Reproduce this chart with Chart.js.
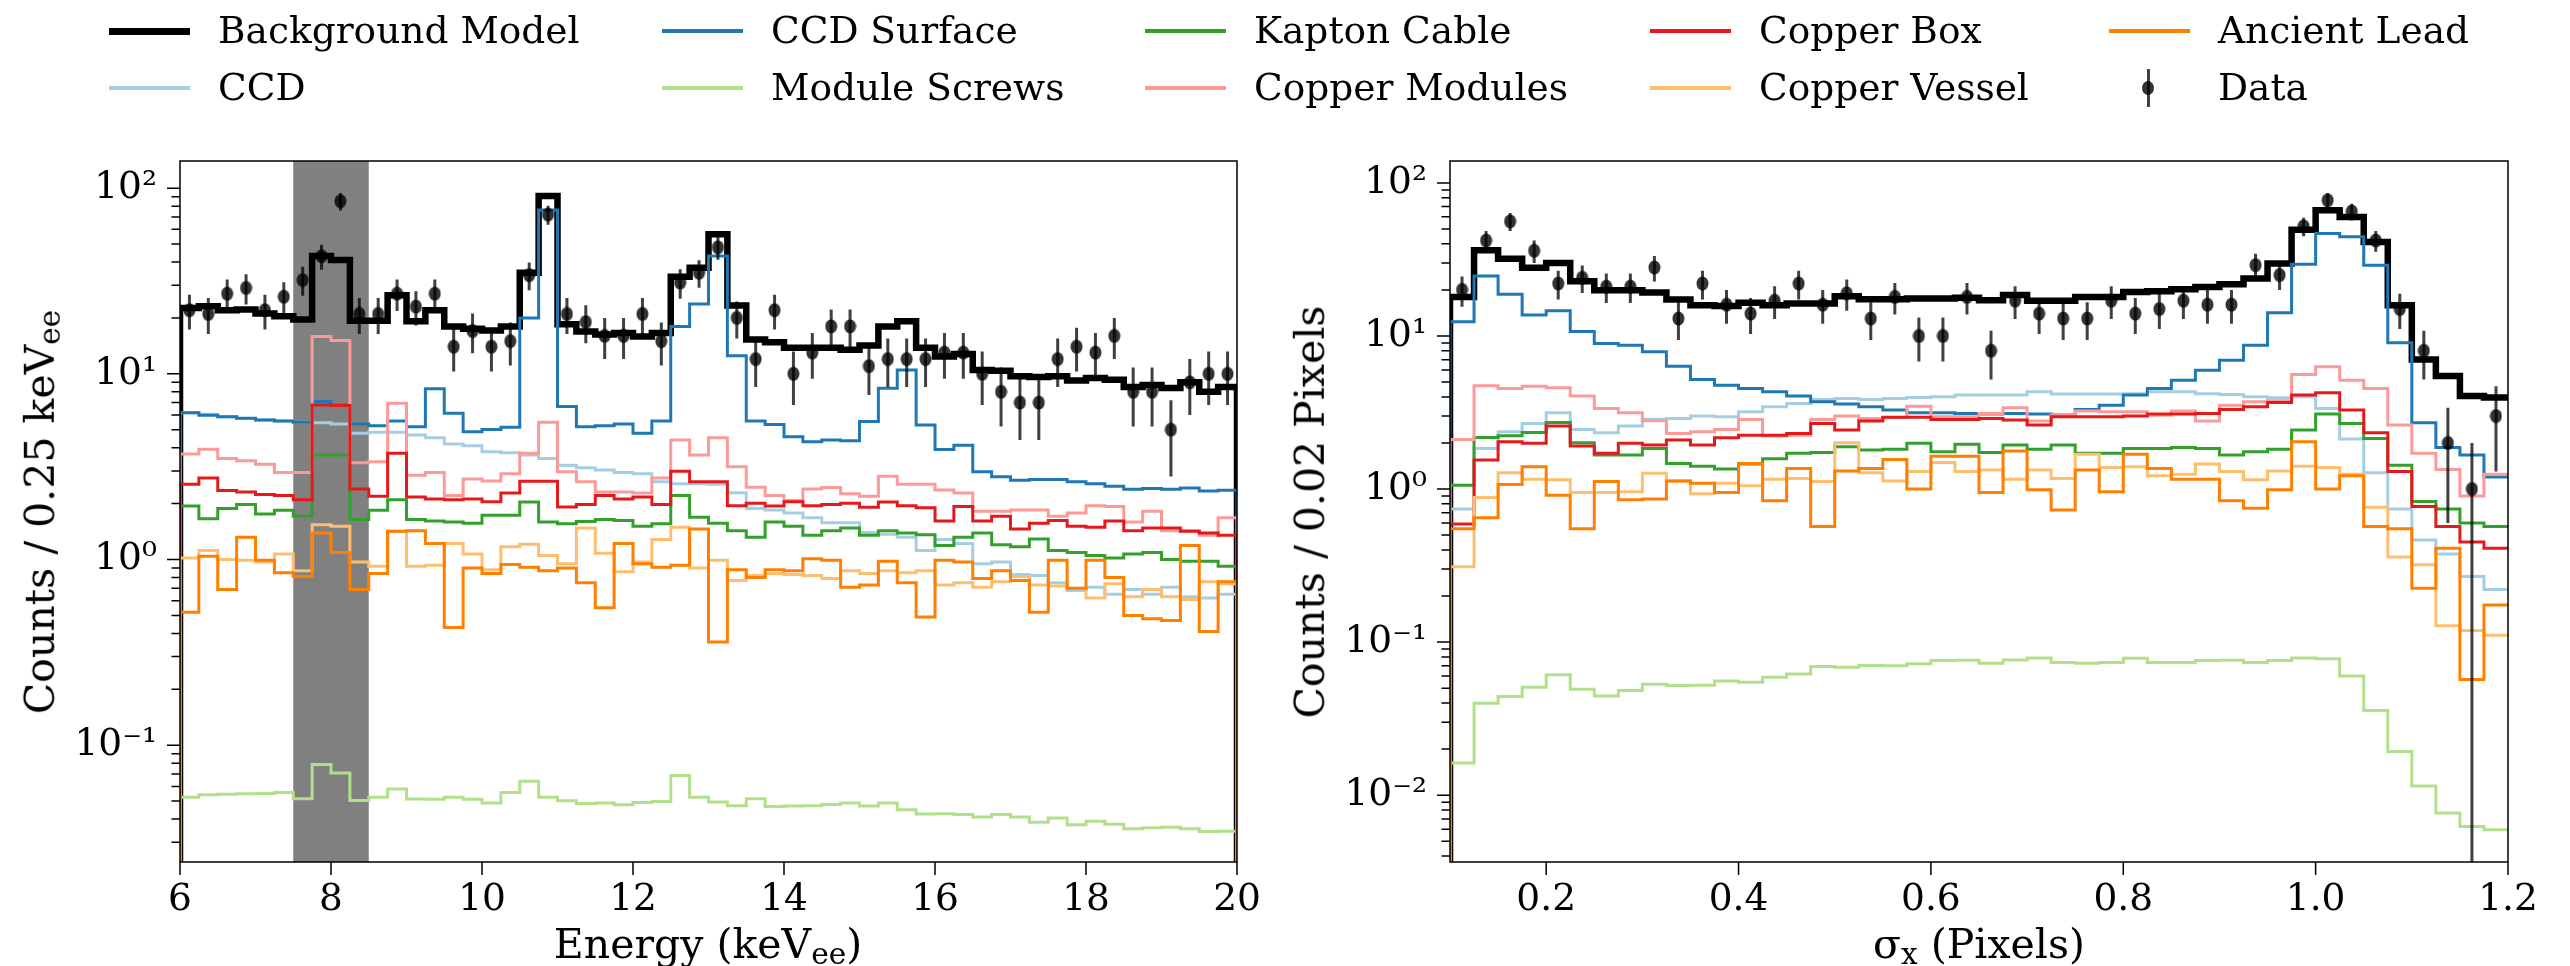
<!DOCTYPE html>
<html>
<head>
<meta charset="utf-8">
<title>Background model vs data</title>
<script src="https://cdn.jsdelivr.net/npm/chart.js@4.4.1/dist/chart.umd.min.js"></script>
<style>
  html, body { margin: 0; padding: 0; background: #ffffff; }
  #fig { position: relative; width: 2570px; height: 966px; overflow: hidden; font-family: 'DejaVu Serif', serif; color: #000; }
  #fig canvas { position: absolute; top: 0; }
  .txt { position: absolute; white-space: nowrap; line-height: 0; font-family: 'DejaVu Serif', serif; }
  .ax { font-size: 41px; }
  .lg { font-size: 37.5px; }
  .txt sub { font-size: 72%; line-height: 0; vertical-align: -0.22em; }
  .blk { position: absolute; }
</style>
</head>
<body>
<div id="fig">
  <canvas id="leftChart" width="1285" height="966" style="left:0px"></canvas>
  <canvas id="rightChart" width="1285" height="966" style="left:1285px"></canvas>
  <div class="txt ax" style="left:708px;top:958px;transform:translate(-50%,-0.346em)">Energy (keV<sub>ee</sub>)</div>
  <div class="txt ax" style="left:1979px;top:958px;transform:translate(-50%,-0.346em)">σ<sub>x</sub> (Pixels)</div>
  <div class="txt ax" style="left:53.5px;top:511.5px;transform-origin:0 0;transform:rotate(-90deg) translate(-50%,-0.346em)">Counts / 0.25 keV<sub>ee</sub></div>
  <div class="txt ax" style="left:1323.5px;top:511.5px;transform-origin:0 0;transform:rotate(-90deg) translate(-50%,-0.346em)">Counts / 0.02 Pixels</div>
</div>
<script>
// ---------------- axes / bins ----------------
const energyStart = 6, energyEnd = 20, energyBinWidth = 0.25;
const energyTicks = [6, 8, 10, 12, 14, 16, 18, 20];
const leftCountTicks = [0.1, 1, 10, 100];
const leftCountRange = [0.0235, 140];
const copperBand = [7.5, 8.5];

const sigmaStart = 0.1, sigmaEnd = 1.2, sigmaBinWidth = 0.025;
const sigmaTicks = [0.2, 0.4, 0.6, 0.8, 1.0, 1.2];
const rightCountTicks = [0.01, 0.1, 1, 10, 100];
const rightCountRange = [0.00366, 139];

// ---------------- series ----------------
const seriesNames = ['Background Model', 'CCD', 'CCD Surface', 'Module Screws', 'Kapton Cable',
                     'Copper Modules', 'Copper Box', 'Copper Vessel', 'Ancient Lead'];
const seriesColors = ['#000000', '#a6cee3', '#1f78b4', '#b2df8a', '#33a02c',
                      '#fb9a99', '#e31a1c', '#fdbf6f', '#ff7f00'];
const seriesWidths = [6.5, 3, 3, 3, 3, 3, 3, 3, 3];

// Energy spectrum (56 bins of 0.25 keV from 6 to 20 keV)
const bgModelE = [22.6, 23.1, 22.0, 22.2, 21.1, 20.4, 19.6, 43.1, 41.0, 19.3,
  19.3, 26.5, 19.2, 22.0, 18.0, 17.5, 17.1, 18.0, 35.0, 90.8,
  18.5, 16.9, 16.3, 16.6, 15.9, 16.6, 33.3, 37.3, 56.4, 23.3,
  15.3, 14.8, 13.8, 13.8, 13.8, 13.5, 14.2, 18.0, 19.2, 13.8,
  12.4, 12.8, 10.5, 10.4, 9.7, 9.6, 9.7, 9.2, 9.5, 9.3,
  8.5, 8.7, 8.4, 9.0, 8.0, 8.5];
const ccdE = [6.18, 6.05, 5.88, 5.74, 5.64, 5.57, 5.48, 5.46, 5.37, 4.78,
  4.84, 4.84, 4.68, 4.53, 4.19, 4.10, 3.80, 3.76, 3.65, 3.50,
  3.22, 3.12, 3.03, 2.94, 2.90, 2.62, 2.56, 2.56, 2.54, 2.29,
  1.88, 1.85, 1.78, 1.68, 1.58, 1.58, 1.40, 1.37, 1.32, 1.12,
  1.28, 1.22, 0.95, 0.97, 0.83, 0.82, 0.75, 0.68, 0.71, 0.65,
  0.69, 0.65, 0.71, 0.63, 0.62, 0.65];
const ccdSurfaceE = [6.18, 5.98, 5.88, 5.76, 5.64, 5.57, 5.48, 7.09, 6.79, 5.37,
  5.26, 5.57, 5.19, 8.3, 6.13, 4.88, 5.02, 5.15, 20.0, 76.3,
  6.66, 5.19, 5.26, 5.37, 4.78, 5.57, 18.0, 23.8, 43.1, 12.5,
  5.57, 5.34, 4.58, 4.31, 4.40, 4.36, 5.53, 8.36, 10.5, 5.30,
  3.91, 4.13, 2.97, 2.79, 2.67, 2.70, 2.70, 2.62, 2.56, 2.48,
  2.39, 2.41, 2.39, 2.43, 2.34, 2.36];
const moduleScrewsE = [0.0524, 0.0541, 0.0545, 0.0547, 0.055, 0.0557, 0.0515, 0.0787, 0.0709, 0.0504,
  0.0525, 0.0581, 0.0514, 0.0511, 0.0525, 0.0511, 0.0488, 0.0557, 0.0639, 0.0525,
  0.0503, 0.0486, 0.0488, 0.0478, 0.0492, 0.0497, 0.0686, 0.0525, 0.0494, 0.0472,
  0.0515, 0.0467, 0.047, 0.0472, 0.048, 0.0488, 0.047, 0.0488, 0.0449, 0.0426,
  0.0427, 0.0423, 0.041, 0.0423, 0.041, 0.0385, 0.0405, 0.0373, 0.039, 0.0375,
  0.0355, 0.0359, 0.0362, 0.0355, 0.0343, 0.0344];
const kaptonE = [1.94, 1.66, 1.88, 1.98, 1.76, 1.84, 1.71, 3.65, 3.65, 1.64,
  1.84, 2.10, 1.64, 1.61, 1.59, 1.57, 1.73, 1.73, 2.04, 1.59,
  1.56, 1.60, 1.64, 1.62, 1.51, 1.56, 2.21, 1.69, 1.57, 1.43,
  1.32, 1.59, 1.51, 1.35, 1.43, 1.48, 1.35, 1.43, 1.39, 1.36,
  1.19, 1.32, 1.39, 1.20, 1.17, 1.29, 1.12, 1.09, 1.05, 1.02,
  1.07, 1.09, 1.00, 0.98, 0.98, 0.92];
const copperModulesE = [3.70, 3.92, 3.50, 3.40, 3.26, 2.94, 2.94, 15.9, 15.1, 3.32,
  3.36, 6.94, 2.84, 2.94, 2.21, 2.71, 2.65, 2.90, 3.73, 5.48,
  2.97, 2.62, 2.31, 2.31, 2.28, 2.75, 4.40, 3.65, 4.53, 3.16,
  2.45, 2.21, 2.08, 2.40, 2.44, 2.26, 2.19, 2.81, 2.54, 2.54,
  2.37, 2.28, 1.82, 1.82, 1.85, 1.85, 1.71, 1.78, 1.95, 1.93,
  1.59, 1.82, 1.43, 1.43, 1.35, 1.68];
const copperBoxE = [2.54, 2.75, 2.35, 2.31, 2.24, 2.21, 2.10, 6.80, 6.75, 2.40,
  2.19, 3.73, 2.17, 2.12, 2.10, 2.12, 2.05, 2.28, 2.64, 2.64,
  1.92, 1.98, 2.21, 2.12, 2.17, 1.98, 2.99, 2.62, 2.62, 1.95,
  2.01, 1.94, 2.05, 1.95, 1.98, 2.01, 1.91, 2.04, 1.95, 1.90,
  1.61, 1.93, 1.61, 1.71, 1.46, 1.57, 1.62, 1.51, 1.49, 1.61,
  1.43, 1.48, 1.48, 1.42, 1.39, 1.35];
const copperVesselE = [1.02, 1.12, 1.00, 0.99, 0.97, 1.07, 0.87, 1.54, 1.51, 0.97,
  0.92, 1.42, 0.92, 0.93, 1.22, 1.07, 0.88, 1.17, 1.21, 1.05,
  0.95, 1.48, 1.08, 0.86, 0.97, 1.28, 1.49, 0.90, 0.99, 0.77,
  0.82, 0.84, 0.83, 0.82, 0.79, 0.87, 0.84, 0.87, 0.85, 0.87,
  0.73, 0.75, 0.71, 0.76, 0.81, 0.73, 0.72, 0.70, 0.62, 0.74,
  0.63, 0.69, 0.63, 0.61, 0.76, 0.74];
const ancientLeadE = [0.52, 1.04, 0.69, 1.32, 0.99, 0.85, 0.81, 1.39, 1.09, 0.69,
  0.84, 1.42, 1.43, 1.22, 0.43, 0.90, 0.84, 0.94, 0.91, 0.87,
  0.90, 0.75, 0.55, 1.22, 0.95, 0.91, 0.93, 1.46, 0.36, 0.88,
  0.80, 0.88, 0.87, 1.01, 0.99, 0.71, 0.73, 0.98, 0.75, 0.49,
  0.99, 0.97, 0.79, 0.87, 0.77, 0.52, 0.99, 0.70, 0.99, 0.80,
  0.50, 0.48, 0.47, 1.19, 0.41, 0.76];
const dataE = [22, 21, 27, 29, 22, 26, 32, 43, 85, 21,
  21, 27, 23, 27, 14, 17, 14, 15, 34, 72,
  21, 19, 16, 16, 21, 15, 31, 35, 48, 20,
  12, 22, 10, 13, 18, 18, 11, 12, 12, 12,
  13, 13, 10, 8, 7, 7, 12, 14, 13, 16,
  8, 8, 5, 9, 10, 10];
const dataErrE = [4.7, 4.6, 5.2, 5.4, 4.7, 5.1, 5.7, 6.6, 9.2, 4.6,
  4.6, 5.2, 4.8, 5.2, 3.7, 4.1, 3.7, 3.9, 5.8, 8.5,
  4.6, 4.4, 4.0, 4.0, 4.6, 3.9, 5.6, 5.9, 6.9, 4.5,
  3.5, 4.7, 3.2, 3.6, 4.2, 4.2, 3.3, 3.5, 3.5, 3.5,
  3.6, 3.6, 3.2, 2.8, 2.6, 2.6, 3.5, 3.7, 3.6, 4.0,
  2.8, 2.8, 2.2, 3.0, 3.2, 3.2];

// Cluster width spectrum (44 bins of 0.025 px from 0.1 to 1.2)
const bgModelS = [18.0, 36.3, 32.0, 27.9, 30.0, 22.8, 19.9, 19.9, 19.2, 17.3,
  15.9, 15.7, 16.5, 15.9, 16.3, 16.3, 18.2, 17.4, 17.4, 17.6,
  17.6, 17.8, 17.1, 18.5, 17.0, 17.0, 18.0, 18.0, 19.4, 19.6,
  20.2, 20.9, 21.8, 23.7, 29.7, 49.5, 66.2, 59.9, 41.1, 15.9,
  7.02, 5.47, 4.05, 3.97];
const ccdS = [0.74, 1.84, 2.37, 2.68, 3.15, 2.45, 2.33, 2.58, 2.86, 2.89,
  3.00, 2.97, 3.20, 3.45, 3.62, 3.85, 3.91, 3.85, 3.91, 3.97,
  4.01, 4.11, 4.11, 4.11, 4.32, 4.17, 4.17, 4.17, 4.20, 4.32,
  4.32, 4.20, 4.15, 4.01, 3.95, 4.01, 3.36, 2.12, 1.28, 0.74,
  0.465, 0.377, 0.268, 0.221];
const ccdSurfaceS = [12.4, 24.6, 18.7, 13.7, 14.6, 10.7, 8.93, 8.71, 7.88, 6.35,
  5.20, 4.77, 4.54, 4.32, 4.05, 3.72, 3.59, 3.45, 3.28, 3.15,
  3.15, 3.12, 3.09, 3.12, 3.09, 3.04, 3.31, 3.53, 4.11, 4.54,
  5.14, 5.98, 6.95, 8.71, 14.2, 29.4, 46.7, 44.4, 29.0, 9.02,
  2.71, 1.87, 1.67, 1.20];
const moduleScrewsS = [0.0162, 0.0399, 0.0441, 0.0507, 0.0611, 0.0492, 0.0445, 0.0483, 0.0531, 0.052,
  0.0522, 0.0558, 0.0547, 0.059, 0.062, 0.0692, 0.0684, 0.0703, 0.070, 0.0722,
  0.0757, 0.076, 0.0728, 0.0765, 0.0788, 0.0735, 0.0728, 0.0735, 0.0785, 0.0737,
  0.0735, 0.0757, 0.076, 0.0735, 0.0757, 0.0788, 0.078, 0.0601, 0.0357, 0.0193,
  0.0115, 0.00764, 0.00625, 0.00594];
const kaptonS = [1.06, 2.17, 2.23, 2.34, 2.72, 2.01, 1.67, 1.67, 1.84, 1.47,
  1.41, 1.35, 1.46, 1.58, 1.71, 1.73, 1.89, 1.80, 1.82, 1.99,
  1.75, 1.96, 1.73, 1.94, 1.82, 1.94, 1.71, 1.71, 1.84, 1.84,
  1.87, 1.84, 1.67, 1.75, 1.82, 2.43, 3.09, 2.68, 2.14, 1.43,
  0.83, 0.74, 0.60, 0.57];
const copperModulesS = [2.11, 4.73, 4.54, 4.70, 4.59, 4.05, 3.36, 3.15, 2.79, 2.31,
  2.37, 2.45, 2.85, 2.22, 2.25, 2.85, 3.00, 2.89, 2.93, 3.48,
  2.97, 2.97, 3.12, 3.40, 2.78, 3.04, 3.24, 3.20, 3.20, 3.03,
  3.24, 2.78, 3.53, 3.72, 3.77, 5.60, 6.29, 5.14, 4.54, 2.62,
  1.71, 1.34, 0.90, 1.25];
const copperBoxS = [0.59, 1.55, 2.04, 1.99, 2.58, 1.91, 1.71, 1.99, 1.94, 2.09,
  1.94, 2.16, 2.25, 2.25, 2.31, 2.68, 2.43, 2.78, 2.94, 2.94,
  2.85, 2.85, 2.89, 2.82, 2.62, 2.97, 2.97, 2.97, 3.00, 3.09,
  3.09, 3.12, 3.31, 3.45, 3.68, 4.11, 4.25, 3.28, 2.33, 1.30,
  0.77, 0.57, 0.45, 0.41];
const copperVesselS = [0.311, 0.88, 1.28, 1.16, 1.15, 0.95, 0.95, 0.96, 1.27, 1.13,
  0.93, 1.09, 1.05, 1.16, 1.17, 1.12, 2.01, 1.28, 1.13, 1.30,
  1.49, 1.30, 1.33, 1.16, 1.33, 1.17, 1.69, 1.38, 1.40, 1.22,
  1.25, 1.46, 1.30, 1.15, 1.31, 1.41, 1.38, 1.25, 0.76, 0.36,
  0.32, 0.128, 0.119, 0.111];
const ancientLeadS = [0.55, 0.65, 1.07, 1.40, 0.91, 0.55, 1.12, 0.85, 0.86, 1.13,
  1.09, 0.95, 1.47, 0.84, 1.36, 0.57, 1.31, 1.36, 1.56, 1.00,
  1.64, 1.64, 0.95, 1.77, 0.99, 0.73, 1.33, 0.96, 1.69, 1.36,
  1.16, 1.16, 0.84, 0.75, 0.99, 2.04, 1.00, 1.22, 0.57, 0.55,
  0.225, 0.41, 0.057, 0.175];
const dataS = [20, 42, 56, 36, 22, 24, 21, 21, 28, 13,
  22, 16, 14, 17, 22, 16, 19, 13, 18, 10,
  10, 18, 8, 17, 14, 13, 13, 17, 14, 15,
  17, 16, 16, 29, 25, 52, 77, 65, 42, 15,
  8, 2, 1, 3];
const dataErrS = [4.5, 6.5, 7.5, 6.0, 4.7, 4.9, 4.6, 4.6, 5.3, 3.6,
  4.7, 4.0, 3.7, 4.1, 4.7, 4.0, 4.4, 3.6, 4.2, 3.2,
  3.2, 4.2, 2.8, 4.1, 3.7, 3.6, 3.6, 4.1, 3.7, 3.9,
  4.1, 4.0, 4.0, 5.4, 5.0, 7.2, 8.8, 8.1, 6.5, 3.9,
  2.8, 1.4, 1.0, 1.7];

// ---------------- helpers ----------------
const FLOOR = 1e-6;
function stepPoints(start, width, vals) {
  const pts = [{x: start, y: FLOOR}];
  vals.forEach((v, i) => pts.push({x: start + i * width, y: v}));
  const end = start + vals.length * width;
  pts.push({x: end, y: vals[vals.length - 1]});
  pts.push({x: end, y: FLOOR});
  return pts;
}
function makeMarker() {
  const c = document.createElement('canvas');
  c.width = 13; c.height = 15;
  const g = c.getContext('2d');
  g.fillStyle = 'rgba(0,0,0,0.8)';
  g.beginPath(); g.ellipse(6.5, 7.5, 6, 7, 0, 0, Math.PI * 2); g.fill();
  return c;
}
const marker = makeMarker();
const SUP = {'-': '\u207B', '0': '\u2070', '1': '\u00B9', '2': '\u00B2', '3': '\u00B3', '4': '\u2074',
             '5': '\u2075', '6': '\u2076', '7': '\u2077', '8': '\u2078', '9': '\u2079'};
function powLabel(v) {
  const e = Math.round(Math.log10(v));
  return '10' + String(e).split('').map(c => SUP[c]).join('');
}

const axisDecor = {
  id: 'axisDecor',
  beforeDatasetsDraw(chart, args, opts) {
    if (!opts.band) return;
    const {ctx, chartArea: a, scales: {x}} = chart;
    const x0 = x.getPixelForValue(opts.band[0]), x1 = x.getPixelForValue(opts.band[1]);
    ctx.save();
    ctx.fillStyle = '#808080';
    ctx.fillRect(x0, a.top, x1 - x0, a.bottom - a.top);
    ctx.restore();
  },
  beforeDatasetDraw(chart, args) {
    const ds = chart.data.datasets[args.index];
    if (!ds.errors) return;
    const {ctx, chartArea: a, scales: {x, y}} = chart;
    ctx.save();
    ctx.beginPath(); ctx.rect(a.left, a.top, a.right - a.left, a.bottom - a.top); ctx.clip();
    ctx.strokeStyle = 'rgba(0,0,0,0.75)';
    ctx.lineWidth = 3;
    ctx.beginPath();
    ds.data.forEach((p, i) => {
      const e = ds.errors[i];
      const px = x.getPixelForValue(p.x);
      const lo = p.y - e;
      const y0 = lo > 0 ? y.getPixelForValue(lo) : a.bottom + 10;
      const y1 = y.getPixelForValue(p.y + e);
      ctx.moveTo(px, y0); ctx.lineTo(px, y1);
    });
    ctx.stroke();
    ctx.restore();
  },
  afterDraw(chart) {
    const {ctx, chartArea: a, scales: {x, y}} = chart;
    ctx.save();
    ctx.strokeStyle = '#000';
    ctx.lineWidth = 1.5;
    ctx.strokeRect(a.left, a.top, a.right - a.left, a.bottom - a.top);
    ctx.beginPath();
    x.ticks.forEach(t => {
      const px = x.getPixelForValue(t.value);
      ctx.moveTo(px, a.bottom); ctx.lineTo(px, a.bottom + 13);
    });
    const lo = Math.floor(Math.log10(y.min)), hi = Math.ceil(Math.log10(y.max));
    for (let d = lo; d <= hi; d++) {
      for (let m = 1; m <= 9; m++) {
        const v = m * Math.pow(10, d);
        if (v < y.min || v > y.max) continue;
        const py = y.getPixelForValue(v);
        const len = m === 1 ? 13 : 8.5;
        ctx.moveTo(a.left - len, py); ctx.lineTo(a.left, py);
      }
    }
    ctx.stroke();
    ctx.restore();
  }
};

Chart.defaults.font.family = 'DejaVu Serif';
Chart.defaults.color = '#000';
const tickFont = {family: 'DejaVu Serif', size: 37.5};

function buildChart(canvasId, cfg) {
  const datasets = cfg.series.map((vals, k) => ({
    type: 'line',
    label: seriesNames[k],
    data: stepPoints(cfg.start, cfg.width, vals),
    borderColor: seriesColors[k],
    borderWidth: seriesWidths[k],
    stepped: 'before',
    pointRadius: 0, pointHoverRadius: 0, pointHitRadius: 0,
    fill: false, tension: 0,
    borderJoinStyle: 'miter', borderCapStyle: 'butt',
    clip: 0,
    order: 20 - k
  }));
  datasets.push({
    type: 'scatter',
    label: 'Data',
    data: cfg.counts.map((c, i) => ({x: cfg.start + (i + 0.5) * cfg.width, y: c})),
    errors: cfg.errors,
    pointStyle: marker,
    pointRadius: 7,
    backgroundColor: 'rgba(0,0,0,0.8)',
    borderWidth: 0,
    clip: 0,
    order: 0
  });
  return new Chart(document.getElementById(canvasId), {
    type: 'line',
    data: {datasets},
    options: {
      responsive: false,
      animation: false,
      devicePixelRatio: 1,
      events: [],
      layout: {autoPadding: false, padding: {left: 0, right: cfg.padRight, top: 161, bottom: 0}},
      plugins: {legend: {display: false}, tooltip: {enabled: false}, axisDecor: {band: cfg.band}},
      scales: {
        x: {
          type: 'linear', min: cfg.xRange[0], max: cfg.xRange[1], bounds: 'data',
          grid: {display: false, drawTicks: false}, border: {display: false},
          ticks: {padding: 16, font: tickFont, color: '#000', autoSkip: false, maxRotation: 0,
                  callback: cfg.xFmt},
          afterBuildTicks: s => { s.ticks = cfg.xTicks.map(v => ({value: v})); },
          afterFit: s => { s.height = 104; }
        },
        y: {
          type: 'logarithmic', min: cfg.yRange[0], max: cfg.yRange[1], bounds: 'data',
          grid: {display: false, drawTicks: false}, border: {display: false},
          ticks: {padding: 23, font: tickFont, color: '#000', autoSkip: false,
                  callback: v => powLabel(v)},
          afterBuildTicks: s => { s.ticks = cfg.yTicks.map(v => ({value: v})); },
          afterFit: s => { s.width = cfg.yWidth; }
        }
      }
    },
    plugins: [axisDecor]
  });
}

buildChart('leftChart', {
  start: energyStart, width: energyBinWidth,
  series: [bgModelE, ccdE, ccdSurfaceE, moduleScrewsE, kaptonE, copperModulesE, copperBoxE, copperVesselE, ancientLeadE],
  counts: dataE, errors: dataErrE,
  xRange: [energyStart, energyEnd], xTicks: energyTicks, xFmt: v => String(v),
  yRange: leftCountRange, yTicks: leftCountTicks,
  yWidth: 180, padRight: 48, band: copperBand
});
buildChart('rightChart', {
  start: sigmaStart, width: sigmaBinWidth,
  series: [bgModelS, ccdS, ccdSurfaceS, moduleScrewsS, kaptonS, copperModulesS, copperBoxS, copperVesselS, ancientLeadS],
  counts: dataS, errors: dataErrS,
  xRange: [sigmaStart, sigmaEnd], xTicks: sigmaTicks, xFmt: v => Number(v).toFixed(1),
  yRange: rightCountRange, yTicks: rightCountTicks,
  yWidth: 165, padRight: 62, band: null
});

// ---------------- legend (HTML text) ----------------
const legendColX = [109, 662, 1145, 1650, 2109];
const legendRowY = [31, 88];
const fig = document.getElementById('fig');
seriesNames.concat(['Data']).forEach((name, k) => {
  const col = Math.floor(k / 2), row = k % 2;
  const x0 = legendColX[col], yc = legendRowY[row];
  if (name === 'Data') {
    const bar = document.createElement('div');
    bar.className = 'blk';
    Object.assign(bar.style, {left: (x0 + 39 - 1.5) + 'px', top: (yc - 19) + 'px', width: '3px', height: '38px', background: 'rgba(0,0,0,0.75)'});
    fig.appendChild(bar);
    const dot = document.createElement('div');
    dot.className = 'blk';
    Object.assign(dot.style, {left: (x0 + 39 - 6) + 'px', top: (yc - 7) + 'px', width: '12px', height: '14px', borderRadius: '50%', background: 'rgba(0,0,0,0.8)'});
    fig.appendChild(dot);
  } else {
    const h = document.createElement('div');
    h.className = 'blk';
    const th = k === 0 ? 7 : 3.5;
    Object.assign(h.style, {left: x0 + 'px', top: (yc - th / 2) + 'px', width: '81px', height: th + 'px', background: seriesColors[k]});
    fig.appendChild(h);
  }
  const t = document.createElement('div');
  t.className = 'txt lg';
  t.textContent = name;
  Object.assign(t.style, {left: (x0 + 109) + 'px', top: (yc + 12) + 'px', transform: 'translateY(-0.346em)'});
  fig.appendChild(t);
});
</script>
</body>
</html>
